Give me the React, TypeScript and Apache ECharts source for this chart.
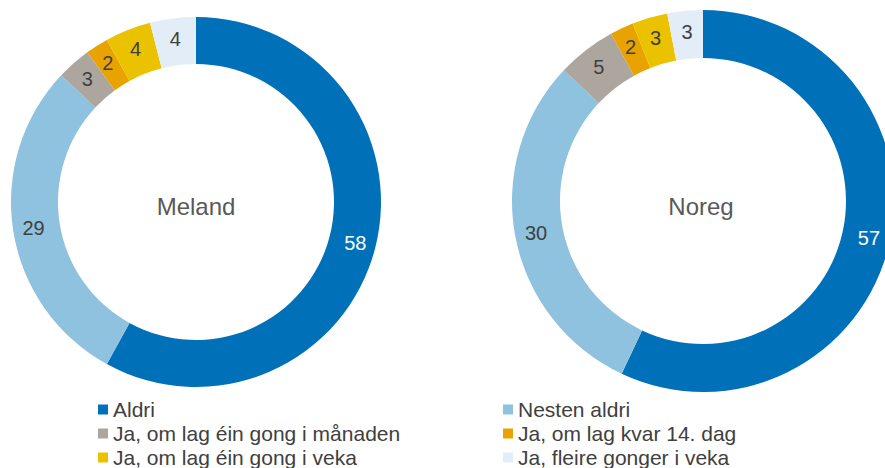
import React, { useEffect, useRef } from "react";
import * as echarts from "echarts";

const categories = [
  "Aldri",
  "Nesten aldri",
  "Ja, om lag éin gong i månaden",
  "Ja, om lag kvar 14. dag",
  "Ja, om lag éin gong i veka",
  "Ja, fleire gonger i veka",
];
const melandValues = [58, 29, 3, 2, 4, 4];
const noregValues = [57, 30, 5, 2, 3, 3];
const colors = ["#0070B8", "#8EC2DF", "#ADA69F", "#E9A300", "#EBC200", "#E2EDF7"];
const labelColors = ["#FFFFFF", "#404040", "#404040", "#404040", "#404040", "#404040"];
const legendColumnX = [98, 503];
const legendRowY = [399, 423, 447];

const FONT = "Liberation Sans, Arial, sans-serif";

function makeData(values: number[]) {
  return values.map((v, i) => ({
    name: categories[i],
    value: v,
    itemStyle: { color: colors[i] },
    label: { color: labelColors[i] },
  }));
}

export default function App() {
  const ref = useRef<HTMLDivElement>(null);
  useEffect(() => {
    if (!ref.current) return;
    const chart = echarts.init(ref.current, undefined, { renderer: "svg" });
    const pieBase = {
      type: "pie" as const,
      startAngle: 90,
      clockwise: true,
      avoidLabelOverlap: false,
      label: {
        show: true,
        position: "inside",
        formatter: "{c}",
        fontSize: 20,
        fontFamily: FONT,
      },
      labelLine: { show: false },
      emphasis: { disabled: true },
      silent: true,
    };
    const legends = categories.map((name, i) => ({
      orient: "horizontal" as const,
      left: legendColumnX[i % 2],
      top: legendRowY[Math.floor(i / 2)],
      padding: 0,
      itemWidth: 10,
      itemHeight: 10,
      icon: "rect",
      selectedMode: false,
      data: [name],
      textStyle: { fontSize: 21, color: "#404040", fontFamily: FONT, lineHeight: 20 },
    }));
    chart.setOption({
      animation: false,
      backgroundColor: "#FFFFFF",
      color: colors,
      legend: legends,
      graphic: [
        {
          type: "text",
          x: 196,
          y: 206,
          style: {
            text: "Meland",
            fontSize: 24,
            fill: "#595959",
            fontFamily: FONT,
            align: "center",
            verticalAlign: "middle",
          },
        },
        {
          type: "text",
          x: 701,
          y: 206,
          style: {
            text: "Noreg",
            fontSize: 24,
            fill: "#595959",
            fontFamily: FONT,
            align: "center",
            verticalAlign: "middle",
          },
        },
      ],
      series: [
        { ...pieBase, name: "Meland", center: [196, 202], radius: [138, 185], data: makeData(melandValues) },
        { ...pieBase, name: "Noreg", center: [703, 201], radius: [143, 191], data: makeData(noregValues) },
      ],
    });
    return () => chart.dispose();
  }, []);
  return (
    <div
      ref={ref}
      style={{ position: "absolute", left: 0, top: 0, width: 885, height: 468 }}
    />
  );
}
